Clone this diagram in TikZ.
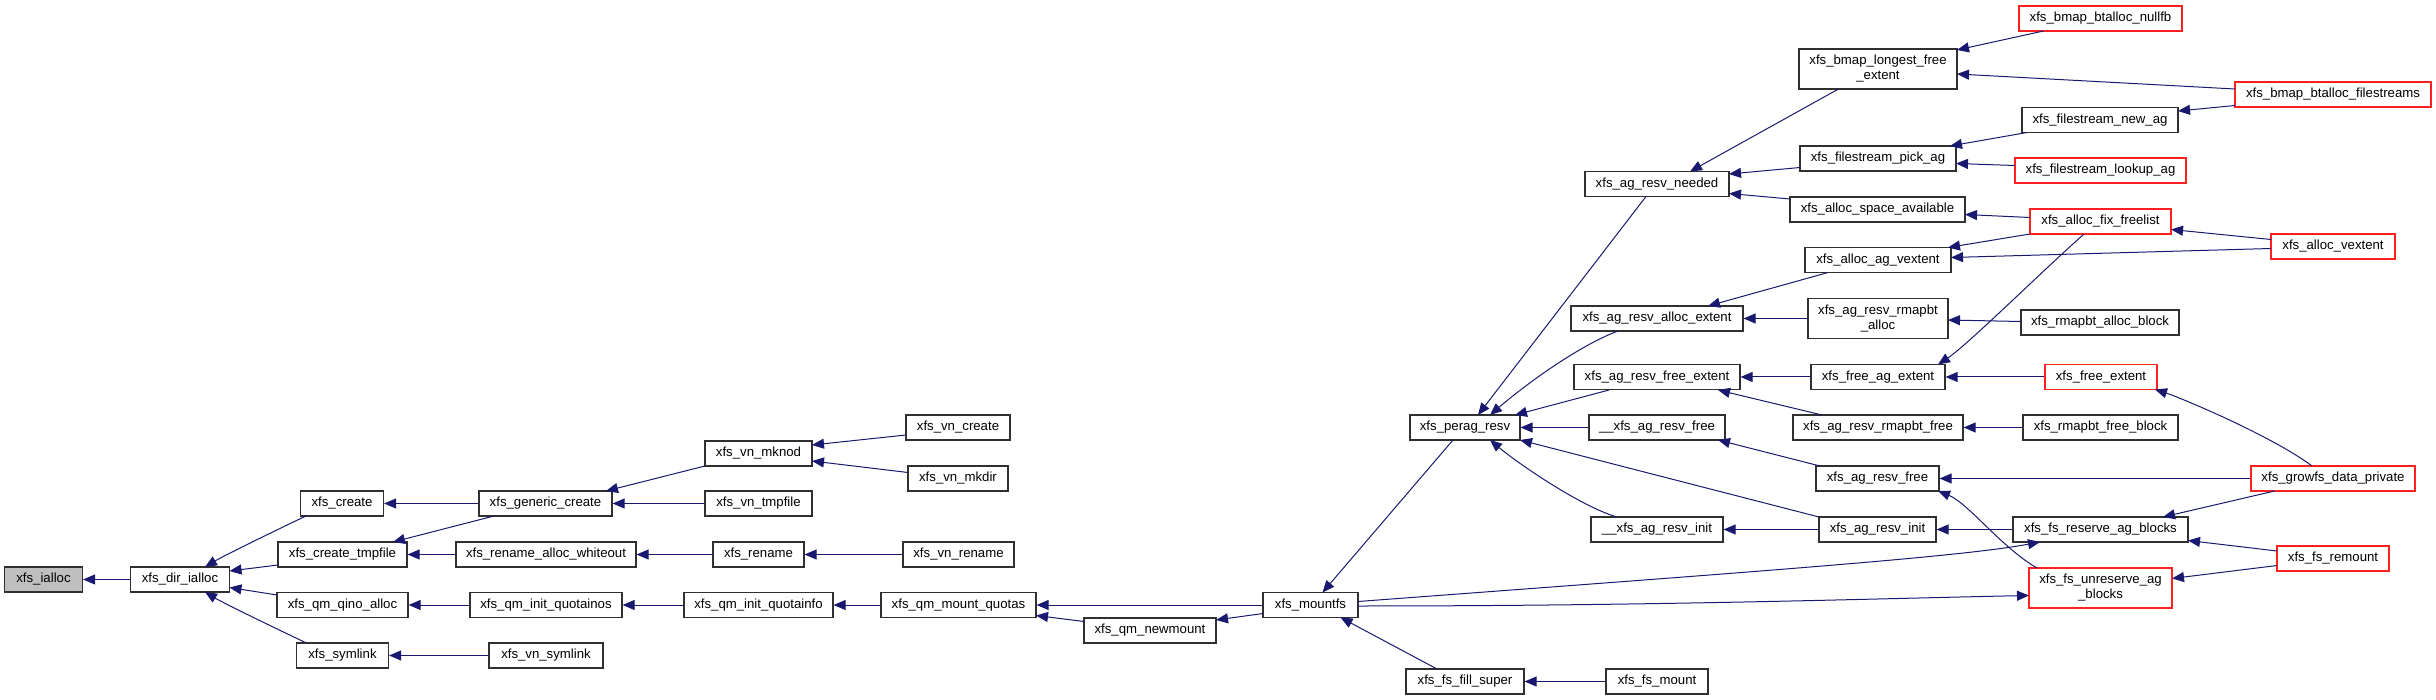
\documentclass[tikz,border=0pt]{standalone}
\usepackage{fontspec}
\setmainfont{Liberation Sans}
\usetikzlibrary{arrows.meta,calc}
\definecolor{edgecol}{HTML}{191970}
\definecolor{rootfill}{HTML}{BFBFBF}
\definecolor{boxline}{HTML}{303030}
\definecolor{redline}{HTML}{FF2020}
\begin{document}
\begin{tikzpicture}[x=1pt,y=-1pt,
  box/.style={draw=boxline, line width=1.2pt, fill=white, inner sep=0pt, align=center,
    font=\fontsize{13.2}{15}\selectfont, minimum height=25pt},
  tall/.style={minimum height=40pt},
  rbox/.style={box, draw=redline},
  rootbox/.style={box, fill=rootfill},
  edge/.style={draw=edgecol, line width=1pt, -{Triangle[length=12pt,width=10pt]}}]
\useasboundingbox (0,0) rectangle (2436,700);

% nodes
\node[rootbox, minimum width=78pt] (ialloc) at (43.5,579.5) {xfs\_ialloc};
\node[box, minimum width=99pt] (dirialloc) at (180,579.5) {xfs\_dir\_ialloc};
\node[box, minimum width=83pt] (create) at (342,503.5) {xfs\_create};
\node[box, minimum width=129pt] (createtmp) at (342.5,554.5) {xfs\_create\_tmpfile};
\node[box, minimum width=131pt] (qinoalloc) at (342.5,605) {xfs\_qm\_qino\_alloc};
\node[box, minimum width=92pt] (symlink) at (342.5,655.5) {xfs\_symlink};
\node[box, minimum width=133pt] (genericcreate) at (545.5,503.5) {xfs\_generic\_create};
\node[box, minimum width=180pt] (renamewhiteout) at (546,554.5) {xfs\_rename\_alloc\_whiteout};
\node[box, minimum width=152pt] (initquotainos) at (546,605) {xfs\_qm\_init\_quotainos};
\node[box, minimum width=114pt] (vnsymlink) at (546,655.5) {xfs\_vn\_symlink};
\node[box, minimum width=107pt] (vnmknod) at (758.5,453.5) {xfs\_vn\_mknod};
\node[box, minimum width=107pt] (vntmpfile) at (758.5,503.5) {xfs\_vn\_tmpfile};
\node[box, minimum width=91pt] (rename) at (758.5,554.5) {xfs\_rename};
\node[box, minimum width=149pt] (initquotainfo) at (758.5,605) {xfs\_qm\_init\_quotainfo};
\node[box, minimum width=104pt] (vncreate) at (958,427.5) {xfs\_vn\_create};
\node[box, minimum width=100pt] (vnmkdir) at (958,478.5) {xfs\_vn\_mkdir};
\node[box, minimum width=111pt] (vnrename) at (958.5,554.5) {xfs\_vn\_rename};
\node[box, minimum width=155pt] (qmmountquotas) at (958.5,605) {xfs\_qm\_mount\_quotas};
\node[box, minimum width=132pt] (qmnewmount) at (1150,630.5) {xfs\_qm\_newmount};
\node[box, minimum width=95pt] (mountfs) at (1310.5,605) {xfs\_mountfs};
\node[box, minimum width=110pt] (peragresv) at (1465,427.5) {xfs\_perag\_resv};
\node[box, minimum width=118pt] (fsfillsuper) at (1465,681.5) {xfs\_fs\_fill\_super};
\node[box, minimum width=144pt] (agresvneeded) at (1657,184) {xfs\_ag\_resv\_needed};
\node[box, minimum width=172pt] (agresvallocext) at (1657,318.5) {xfs\_ag\_resv\_alloc\_extent};
\node[box, minimum width=166pt] (agresvfreeext) at (1657,377) {xfs\_ag\_resv\_free\_extent};
\node[box, minimum width=136pt] (uuagresvfree) at (1657,427.5) {\_\_xfs\_ag\_resv\_free};
\node[box, minimum width=132pt] (uuagresvinit) at (1657,529.5) {\_\_xfs\_ag\_resv\_init};
\node[box, minimum width=102pt] (fsmount) at (1657,681.5) {xfs\_fs\_mount};
\node[box, tall, minimum width=158pt] (longestfree) at (1878,69) {xfs\_bmap\_longest\_free\\\_extent};
\node[box, minimum width=156pt] (pickag) at (1878,158.5) {xfs\_filestream\_pick\_ag};
\node[box, minimum width=175pt] (spaceavail) at (1877.5,209.5) {xfs\_alloc\_space\_available};
\node[box, minimum width=146pt] (agvextent) at (1878,260) {xfs\_alloc\_ag\_vextent};
\node[box, tall, minimum width=140pt] (rmapbtalloc) at (1878,318.5) {xfs\_ag\_resv\_rmapbt\\\_alloc};
\node[box, minimum width=134pt] (freeagext) at (1878,377) {xfs\_free\_ag\_extent};
\node[box, minimum width=170pt] (rmapbtfree) at (1878,427.5) {xfs\_ag\_resv\_rmapbt\_free};
\node[box, minimum width=123pt] (agresvfree) at (1877.5,478.5) {xfs\_ag\_resv\_free};
\node[box, minimum width=117pt] (agresvinit) at (1877.5,529.5) {xfs\_ag\_resv\_init};
\node[rbox, minimum width=163pt] (nullfb) at (2100.5,18.5) {xfs\_bmap\_btalloc\_nullfb};
\node[box, minimum width=156pt] (newag) at (2100,120) {xfs\_filestream\_new\_ag};
\node[rbox, minimum width=171pt] (lookupag) at (2100.5,170.5) {xfs\_filestream\_lookup\_ag};
\node[rbox, minimum width=141pt] (fixfreelist) at (2100.5,221.5) {xfs\_alloc\_fix\_freelist};
\node[box, minimum width=158pt] (rmapbtallocblock) at (2100,322.5) {xfs\_rmapbt\_alloc\_block};
\node[rbox, minimum width=112pt] (freeextent) at (2101,377) {xfs\_free\_extent};
\node[box, minimum width=155pt] (rmapbtfreeblock) at (2100.5,427.5) {xfs\_rmapbt\_free\_block};
\node[box, minimum width=175pt] (reserveag) at (2100.5,529.5) {xfs\_fs\_reserve\_ag\_blocks};
\node[rbox, tall, minimum width=143pt] (unreserveag) at (2100.5,588) {xfs\_fs\_unreserve\_ag\\\_blocks};
\node[rbox, minimum width=196pt] (filestreams) at (2333,94.5) {xfs\_bmap\_btalloc\_filestreams};
\node[rbox, minimum width=124pt] (allocvextent) at (2333,246.5) {xfs\_alloc\_vextent};
\node[rbox, minimum width=164pt] (growfs) at (2333,478.5) {xfs\_growfs\_data\_private};
\node[rbox, minimum width=112pt] (remount) at (2333,558.5) {xfs\_fs\_remount};

% edges (arrow at callee)
\draw[edge] (dirialloc.west) -- (ialloc.east);
\draw[edge] ($(create)+(-36,12.5)$) .. controls +(-15,7) and +(20,-12) .. ($(dirialloc)+(25,-12.5)$);
\draw[edge] ($(createtmp)+(-64.5,10.5)$) -- ($(dirialloc)+(49.5,-8.5)$);
\draw[edge] ($(qinoalloc)+(-65.5,-10)$) -- ($(dirialloc)+(49.5,8)$);
\draw[edge] ($(symlink)+(-36,-12.5)$) .. controls +(-15,-7) and +(20,12) .. ($(dirialloc)+(25,12.5)$);
\draw[edge] (genericcreate.west) -- (create.east);
\draw[edge] ($(genericcreate)+(-51.5,12.5)$) -- ($(createtmp)+(50.5,-12.5)$);
\draw[edge] (renamewhiteout.west) -- (createtmp.east);
\draw[edge] (initquotainos.west) -- (qinoalloc.east);
\draw[edge] (vnsymlink.west) -- (symlink.east);
\draw[edge] ($(vnmknod)+(-53.5,12.5)$) -- ($(genericcreate)+(60.5,-12.5)$);
\draw[edge] (vntmpfile.west) -- (genericcreate.east);
\draw[edge] ($(vncreate)+(-52,7.5)$) -- ($(vnmknod)+(53.5,-8.5)$);
\draw[edge] ($(vnmkdir)+(-50,-6)$) -- ($(vnmknod)+(53.5,7.5)$);
\draw[edge] (rename.west) -- (renamewhiteout.east);
\draw[edge] (vnrename.west) -- (rename.east);
\draw[edge] (initquotainfo.west) -- (initquotainos.east);
\draw[edge] (qmmountquotas.west) -- (initquotainfo.east);
\draw[edge] (mountfs.west) -- (qmmountquotas.east);
\draw[edge] ($(qmnewmount)+(-66,-9)$) -- ($(qmmountquotas)+(77.5,10.5)$);
\draw[edge] ($(mountfs)+(-47.5,8.5)$) -- ($(qmnewmount)+(66,-10.5)$);
\draw[edge] ($(peragresv)+(-12,12.5)$) -- ($(mountfs)+(12,-12.5)$);
\draw[edge] ($(fsfillsuper)+(-28,-12.5)$) -- ($(mountfs)+(30,12.5)$);
\draw[edge] (fsmount.west) -- (fsfillsuper.east);
\draw[edge] ($(mountfs)+(47.5,-3.5)$) .. controls +(400,-30) and +(-80,15) .. ($(reserveag)+(-60.5,12.5)$);
\draw[edge] ($(mountfs)+(47.5,1)$) .. controls +(300,0) and +(-150,3) .. ($(unreserveag)+(-71.5,7.5)$);
\draw[edge] ($(agresvneeded)+(-11,12.5)$) -- ($(peragresv)+(13,-12.5)$);
\draw[edge] ($(agresvallocext)+(-39,12.5)$) .. controls +(-40,15) and +(35,-30) .. ($(peragresv)+(25,-12.5)$);
\draw[edge] ($(agresvfreeext)+(-48,13)$) -- ($(peragresv)+(50,-12.5)$);
\draw[edge] (uuagresvfree.west) -- (peragresv.east);
\draw[edge] ($(agresvinit)+(-58.5,-12.5)$) -- ($(peragresv)+(55,12.5)$);
\draw[edge] ($(uuagresvinit)+(-40,-12.5)$) .. controls +(-35,-10) and +(30,25) .. ($(peragresv)+(25,12.5)$);
\draw[edge] (agresvinit.west) -- (uuagresvinit.east);
\draw[edge] ($(agresvfree)+(-57.5,-12.5)$) -- ($(uuagresvfree)+(61,12.5)$);
\draw[edge] (freeagext.west) -- (agresvfreeext.east);
\draw[edge] ($(rmapbtfree)+(-56,-12.5)$) -- ($(agresvfreeext)+(61,13)$);
\draw[edge] ($(longestfree)+(-39.5,20)$) -- ($(agresvneeded)+(33,-12.5)$);
\draw[edge] ($(pickag)+(-78,9)$) -- ($(agresvneeded)+(72,-10)$);
\draw[edge] ($(spaceavail)+(-87.5,-10.5)$) -- ($(agresvneeded)+(72,9.5)$);
\draw[edge] ($(agvextent)+(-50,12.5)$) -- ($(agresvallocext)+(51,-12.5)$);
\draw[edge] (rmapbtalloc.west) -- (agresvallocext.east);
\draw[edge] ($(nullfb)+(-57,12.5)$) -- ($(longestfree)+(79,-19)$);
\draw[edge] ($(filestreams)+(-98,-5.5)$) -- ($(longestfree)+(79,5)$);
\draw[edge] ($(filestreams)+(-98,11)$) -- ($(newag)+(78,-9)$);
\draw[edge] ($(newag)+(-73,12.5)$) -- ($(pickag)+(72,-12.5)$);
\draw[edge] ($(lookupag)+(-85.5,-5)$) -- ($(pickag)+(78,5)$);
\draw[edge] ($(fixfreelist)+(-70.5,-4)$) -- ($(spaceavail)+(87.5,5)$);
\draw[edge] ($(fixfreelist)+(-70.5,12.5)$) -- ($(agvextent)+(70,-12.5)$);
\draw[edge] ($(allocvextent)+(-62,-7)$) -- ($(fixfreelist)+(70.5,8)$);
\draw[edge] ($(allocvextent)+(-62,2)$) -- ($(agvextent)+(73,-2.5)$);
\draw[edge] ($(rmapbtallocblock)+(-79,-1)$) -- ($(rmapbtalloc)+(70,1.5)$);
\draw[edge] ($(fixfreelist)+(-16.5,12.5)$) .. controls +(-45,40) and +(30,-20) .. ($(freeagext)+(60,-12.5)$);
\draw[edge] (freeextent.west) -- (freeagext.east);
\draw[edge] ($(growfs)+(-21,-12.5)$) .. controls +(-40,-30) and +(25,8) .. ($(freeextent)+(54,12.5)$);
\draw[edge] (rmapbtfreeblock.west) -- (rmapbtfree.east);
\draw[edge] (growfs.west) -- (agresvfree.east);
\draw[edge] ($(unreserveag)+(-63.5,-20)$) .. controls +(-35,-20) and +(30,12) .. ($(agresvfree)+(60.5,12.5)$);
\draw[edge] (reserveag.west) -- (agresvinit.east);
\draw[edge] ($(growfs)+(-58.5,12.5)$) -- ($(reserveag)+(62.5,-12.5)$);
\draw[edge] ($(remount)+(-56,-7.5)$) -- ($(reserveag)+(87.5,11)$);
\draw[edge] ($(remount)+(-56,7)$) -- ($(unreserveag)+(71.5,-9.5)$);
\end{tikzpicture}
\end{document}
